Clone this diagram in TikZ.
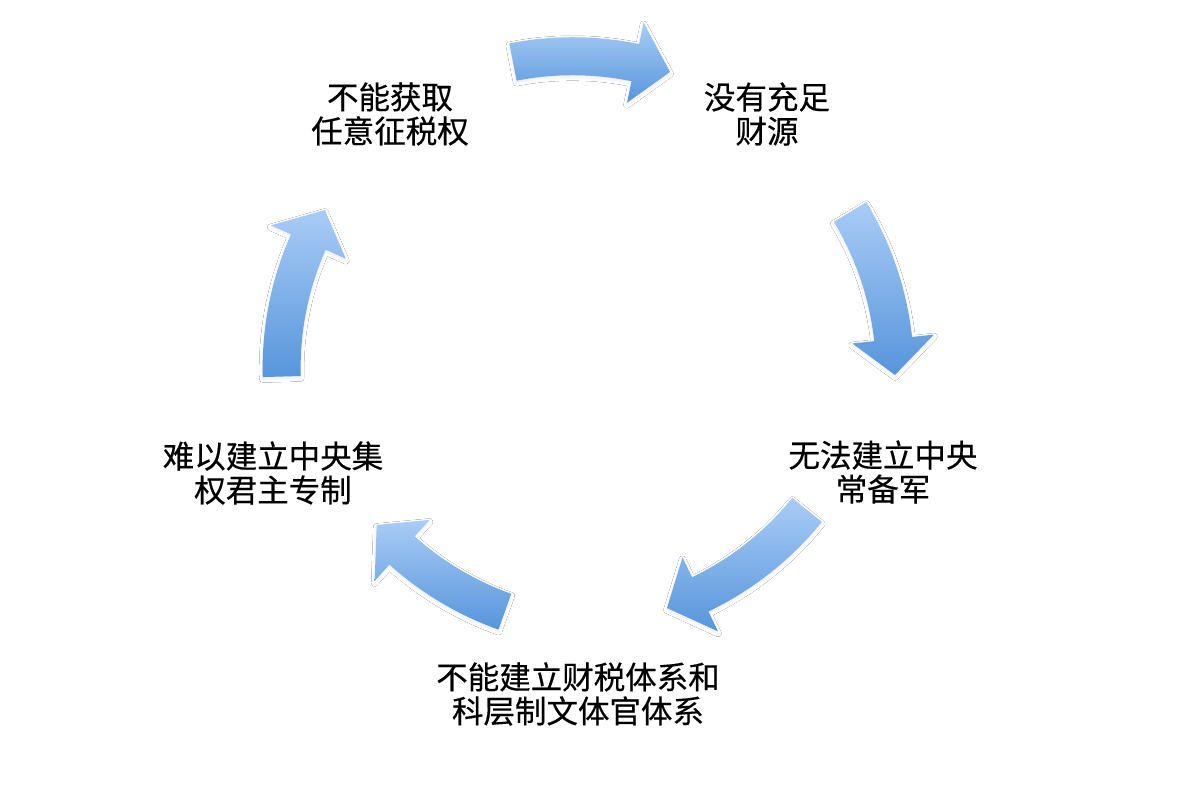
\documentclass[tikz,border=0pt]{standalone}
\usepackage{fontspec}
\newfontfamily\cjk[FakeBold=0.4]{Noto Sans CJK SC}
\usetikzlibrary{calc,shadows.blur}
\definecolor{arrowtop}{HTML}{A9CCF6}
\definecolor{arrowbot}{HTML}{5795DB}
\tikzset{
  cyctext/.style={align=center, inner sep=0pt, text=black,
    font=\cjk\fontsize{15.75}{17}\selectfont},
  arrowfill/.style={top color=arrowtop, bottom color=arrowbot, draw=none,
    blur shadow={shadow xshift=0pt, shadow yshift=-1pt, shadow opacity=8, shadow blur steps=6}}
}
% #1 = Mx, #2 = My (chord midpoint), #3 = chord angle, #4 = half chord length
\newcommand\cyclearrow[4]{%
  \pgfmathsetmacro\Rr{310}%
  \pgfmathsetmacro\bet{asin(#4/\Rr)}%
  \pgfmathsetmacro\Dd{\Rr*cos(\bet)}%
  \pgfmathsetmacro\Ox{#1+\Dd*sin(#3)}%
  \pgfmathsetmacro\Oy{#2-\Dd*cos(#3)}%
  \pgfmathsetmacro\aTail{#3+90+\bet}%
  \pgfmathsetmacro\aTip{#3+90-\bet}%
  \pgfmathsetmacro\aHead{\aTip+36/\Rr*180/pi}%
  \pgfmathsetmacro\rOut{\Rr+19}%
  \pgfmathsetmacro\rIn{\Rr-19}%
  \pgfmathsetmacro\rHo{\Rr+41}%
  \pgfmathsetmacro\rHi{\Rr-41}%
  \path[arrowfill] ($(\Ox,\Oy)+(\aTail:\rOut)$)
    arc[start angle=\aTail, end angle=\aHead, radius=\rOut]
    -- ($(\Ox,\Oy)+(\aHead:\rHo)$)
    -- ($(\Ox,\Oy)+(\aTip:\Rr)$)
    -- ($(\Ox,\Oy)+(\aHead:\rHi)$)
    -- ($(\Ox,\Oy)+(\aHead:\rIn)$)
    arc[start angle=\aHead, end angle=\aTail, radius=\rIn]
    -- cycle;
}
\begin{document}
\begin{tikzpicture}[x=0.5pt,y=0.5pt]
\useasboundingbox[fill=white] (0,0) rectangle (1200,784);
% curved arrows
\cyclearrow{591.5}{717}{-3.6}{78.7}
\cyclearrow{872.5}{490.5}{-74.6}{84.5}
\cyclearrow{737}{225}{-145}{85.5}
\cyclearrow{440.8}{215.7}{145.9}{77.4}
\cyclearrow{303.3}{490.7}{75.5}{86}
% texts
\node[cyctext] (n1) at (390,670) {不能获取\\任意征税权};
\node[cyctext] (n2) at (767,670) {没有充足\\财源};
\node[cyctext] (n3) at (883,312) {无法建立中央\\常备军};
\node[cyctext] (n4) at (578,90) {不能建立财税体系和\\科层制文体官体系};
\node[cyctext] (n5) at (273,311) {难以建立中央集\\权君主专制};
\end{tikzpicture}
\end{document}
